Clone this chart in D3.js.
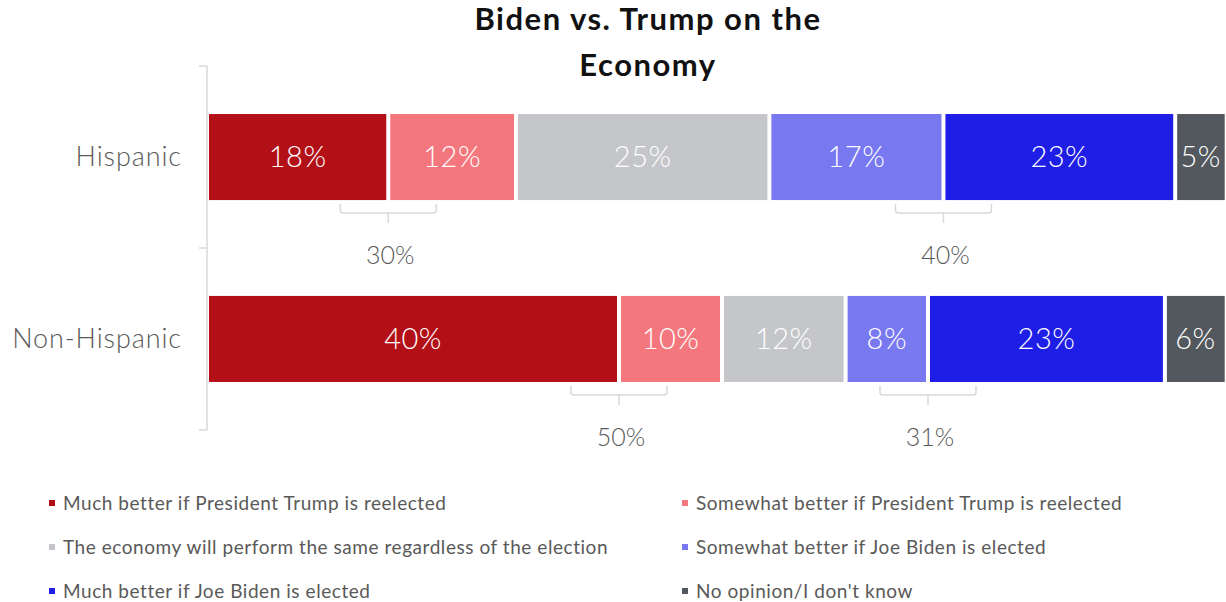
<!DOCTYPE html>
<html lang="en">
<head>
    <meta charset="UTF-8">
    <title>Biden vs. Trump on the Economy</title>
    <script src="https://cdn.jsdelivr.net/npm/d3@7"></script>
    <style>
        body {
            margin: 0;
            background: #fff;
            font-family: Lato, "Noto Sans", sans-serif;
        }
        svg { display: block; }
        .title { font-weight: 700; font-size: 31px; letter-spacing: 1.5px; fill: #111; }
        .cat { font-size: 27px; font-weight: 300; letter-spacing: 0.9px; fill: #595959; }
        .inbar { font-size: 29px; font-weight: 300; letter-spacing: 0.5px; fill: #fff; }
        .total { font-size: 25px; font-weight: 300; fill: #595959; }
        .legend text { font-size: 19px; letter-spacing: 0.55px; fill: #595959; }
    </style>
</head>
<body>
<script>
    var categories = ["Hispanic", "Non-Hispanic"];
    var series = [
        "Much better if President Trump is reelected",
        "Somewhat better if President Trump is reelected",
        "The economy will perform the same regardless of the election",
        "Somewhat better if Joe Biden is elected",
        "Much better if Joe Biden is elected",
        "No opinion/I don't know"
    ];
    // shares in percent (labels show rounded values)
    var hispanic = [17.6, 12.4, 24.6, 16.9, 22.5, 5.0];
    var nonHispanic = [40, 10, 12, 8, 23, 6];
    var colors = ["#b30f17", "#f4777e", "#c4c6c9", "#7878f0", "#1e1ee6", "#53575e"];
    // brackets: sum of segments 0+1 (Trump) and 3+4 (Biden)
    var groups = [[0, 1], [3, 4]];

    var rows = [hispanic, nonHispanic];

    var width = 1226, height = 602;
    var svg = d3.select("body").append("svg")
            .attr("width", width)
            .attr("height", height);

    svg.append("text").attr("class", "title")
            .attr("x", 648).attr("y", 30)
            .attr("text-anchor", "middle")
            .text("Biden vs. Trump on the");
    svg.append("text").attr("class", "title")
            .attr("x", 648).attr("y", 76)
            .attr("text-anchor", "middle")
            .text("Economy");

    var x = d3.scaleLinear().domain([0, 100]).range([209, 209 + 1030]);
    var y = d3.scaleBand().domain(categories).range([66, 430]).paddingInner(0.527).paddingOuter(0.264);

    // axis line with ticks at band edges
    var axisG = svg.append("g");
    axisG.append("line")
            .attr("x1", 207).attr("x2", 207)
            .attr("y1", 66).attr("y2", 430)
            .attr("stroke", "#d9d9d9").attr("stroke-width", 1.5);
    [66, 248, 430].forEach(function (t) {
        axisG.append("line")
                .attr("x1", 199).attr("x2", 207)
                .attr("y1", t).attr("y2", t)
                .attr("stroke", "#d9d9d9").attr("stroke-width", 1.5);
    });

    svg.selectAll(".cat")
            .data(categories)
            .enter().append("text")
            .attr("class", "cat")
            .attr("x", 182)
            .attr("y", function (d) { return y(d) + y.bandwidth() / 2; })
            .attr("dy", "0.35em")
            .attr("text-anchor", "end")
            .text(function (d) { return d; });

    rows.forEach(function (vals, r) {
        var cat = categories[r];
        var y0 = y(cat), bh = y.bandwidth();
        var cum = 0;
        var segs = vals.map(function (v, i) {
            var s = {v: v, i: i, start: cum, end: cum + v};
            cum += v;
            return s;
        });
        var g = svg.append("g");
        g.selectAll("rect")
                .data(segs)
                .enter().append("rect")
                .attr("x", function (d) { return x(d.start); })
                .attr("y", y0)
                .attr("width", function (d) { return x(d.end) - x(d.start) - 4; })
                .attr("height", bh)
                .attr("fill", function (d) { return colors[d.i]; });
        g.selectAll("text")
                .data(segs)
                .enter().append("text")
                .attr("class", "inbar")
                .attr("x", function (d) { return (x(d.start) + Math.min(x(d.end), width + 2) - 4) / 2; })
                .attr("y", y0 + bh / 2)
                .attr("dy", "0.35em")
                .attr("text-anchor", "middle")
                .text(function (d) { return Math.round(d.v) + "%"; });

        groups.forEach(function (gr) {
            var cx = x(segs[gr[0]].end) - 2;
            var top = y0 + bh + 4, mid = top + 9, bot = mid + 10, half = 48, rr = 3;
            var p = d3.path();
            p.moveTo(cx - half, top);
            p.lineTo(cx - half, mid - rr);
            p.quadraticCurveTo(cx - half, mid, cx - half + rr, mid);
            p.lineTo(cx + half - rr, mid);
            p.quadraticCurveTo(cx + half, mid, cx + half, mid - rr);
            p.lineTo(cx + half, top);
            p.moveTo(cx, mid);
            p.lineTo(cx, bot);
            g.append("path").attr("d", p.toString())
                    .attr("fill", "none").attr("stroke", "#d9d9d9").attr("stroke-width", 1.5);
            var total = d3.sum(gr, function (k) { return Math.round(vals[k]); });
            g.append("text").attr("class", "total")
                    .attr("x", cx + 2)
                    .attr("y", y0 + bh / 2 + 98)
                    .attr("dy", "0.35em")
                    .attr("text-anchor", "middle")
                    .text(total + "%");
        });
    });

    var legend = svg.append("g").attr("class", "legend");
    var item = legend.selectAll("g")
            .data(series)
            .enter().append("g")
            .attr("transform", function (d, i) {
                return "translate(" + (i % 2 === 0 ? 49 : 682) + "," + (503 + Math.floor(i / 2) * 44) + ")";
            });
    item.append("rect")
            .attr("x", 0).attr("y", -3)
            .attr("width", 6).attr("height", 6)
            .attr("fill", function (d, i) { return colors[i]; });
    item.append("text")
            .attr("x", 14)
            .attr("dy", "0.35em")
            .text(function (d) { return d; });
</script>
</body>
</html>
